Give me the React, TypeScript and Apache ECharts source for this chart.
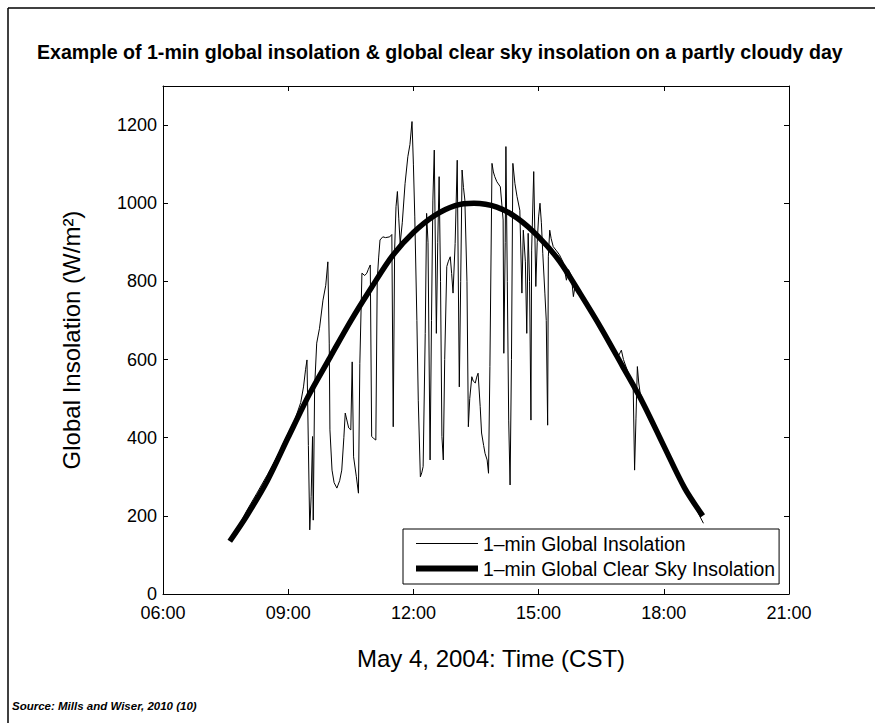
import React, { useEffect, useRef } from 'react';
import * as echarts from 'echarts';

const TITLE = 'Example of 1-min global insolation & global clear sky insolation on a partly cloudy day';
const X_NAME = 'May 4, 2004: Time (CST)';
const Y_NAME = 'Global Insolation (W/m²)';
const SOURCE = 'Source: Mills and Wiser, 2010 (10)';
const SERIES_NAMES = ['1–min Global Insolation', '1–min Global Clear Sky Insolation'];

// x axis: minutes after midnight
const X_MIN = 360;
const X_MAX = 1260;
const X_STEP = 180;
const xTickLabels = ['06:00', '09:00', '12:00', '15:00', '18:00', '21:00'];
const Y_MIN = 0;
const Y_MAX = 1300;
const Y_STEP = 200;

// 1-min global insolation (minutes, W/m2)
const globalMinutes = [
  456, 465, 480, 495, 510, 525, 540, 550, 558, 562, 565, 567, 569, 571, 573, 575, 576, 578, 581, 585,
  590, 594, 597, 599, 600, 603, 606, 610, 614, 617, 620, 622, 625, 627, 630, 632, 634, 638, 641, 643,
  646, 650, 653, 655, 658, 660, 663, 666, 668, 670, 672, 676, 680, 686, 689, 691, 693, 695, 697, 699,
  701, 704, 708, 712, 715, 718, 720, 722, 725, 727, 730, 732, 734, 737, 739, 741, 744, 746, 748, 750,
  753, 755, 757, 759, 761, 763, 765, 768, 770, 773, 775, 777, 780, 783, 786, 788, 790, 792, 794, 797,
  799, 801, 804, 806, 809, 811, 813, 816, 818, 821, 823, 826, 828, 830, 833, 835, 837, 840, 845, 849,
  850, 852, 853, 855, 857, 859, 861, 863, 866, 869, 873, 876, 878, 881, 883, 885, 887, 889, 890, 893,
  896, 898, 900, 902, 904, 906, 909, 911, 913, 914, 916, 918, 921, 925, 930, 935, 940, 943, 947, 950,
  953, 960, 970, 980, 990, 1000, 1010, 1015, 1019, 1022, 1028, 1033, 1036, 1038, 1040, 1042, 1044, 1046, 1050, 1060,
  1070, 1080, 1090, 1100, 1110, 1120, 1130, 1137,
];
const globalValues = [
  140, 160, 212, 258, 305, 355, 412, 448, 490, 530, 575, 599, 380, 164, 250, 403, 189, 530, 642, 680,
  752, 790, 850, 640, 420, 317, 285, 271, 290, 317, 400, 463, 440, 425, 420, 594, 351, 300, 258, 590,
  821, 815, 821, 830, 842, 403, 398, 394, 803, 860, 906, 914, 912, 914, 920, 428, 880, 991, 1030, 960,
  897, 950, 1050, 1119, 1150, 1209, 1100, 965, 700, 496, 300, 310, 326, 667, 974, 900, 343, 700, 1008, 1136,
  667, 900, 1068, 800, 403, 343, 600, 838, 850, 863, 820, 770, 897, 1110, 530, 800, 1085, 1040, 1008, 800,
  428, 500, 556, 545, 540, 555, 565, 480, 412, 380, 360, 343, 309, 582, 1102, 1080, 1068, 1055, 1042, 957,
  616, 900, 1145, 800, 445, 279, 600, 1102, 1050, 1017, 982, 770, 931, 850, 667, 923, 800, 445, 880, 1081,
  787, 900, 965, 1000, 950, 872, 770, 700, 432, 863, 931, 910, 889, 880, 868, 850, 803, 830, 815, 761,
  795, 770, 745, 715, 686, 655, 622, 610, 624, 600, 570, 545, 530, 317, 450, 582, 540, 514, 498, 460,
  420, 382, 348, 310, 275, 240, 205, 181,
];

// 1-min global clear sky insolation (minutes, W/m2)
const clearMinutes = [
  456, 480, 510, 540, 570, 600, 630, 660, 690, 720, 750, 780, 807, 840, 870, 900, 930, 960, 990, 1020,
  1050, 1080, 1110, 1136,
];
const clearValues = [
  135, 199, 290, 401, 510, 605, 699, 785, 866, 925, 968, 994, 1000, 990, 961, 914, 852, 768, 680, 585,
  489, 379, 271, 200,
];

const FONT = '"Liberation Sans", Arial, Helvetica, sans-serif';

export default function App() {
  const ref = useRef<HTMLDivElement>(null);

  useEffect(() => {
    if (!ref.current) return;
    const chart = echarts.init(ref.current, undefined, { renderer: 'svg' });

    const globalData = globalMinutes.map((m, i) => [m, globalValues[i]]);
    const clearData = clearMinutes.map((m, i) => [m, clearValues[i]]);

    const axisLine = { show: true, onZero: false, lineStyle: { color: '#000', width: 1 } };
    const axisTick = { show: true, inside: true, length: 5, lineStyle: { color: '#000', width: 1 } };

    const option: any = {
      animation: false,
      backgroundColor: '#fff',
      color: ['#000', '#000'],
      textStyle: { fontFamily: FONT, color: '#000' },
      title: {
        text: TITLE,
        left: 32,
        top: 37,
        textStyle: { fontFamily: FONT, fontSize: 19.6, fontWeight: 'bold', color: '#000' },
      },
      grid: { left: 163, top: 86, right: 86, bottom: 129, containLabel: false },
      legend: {
        left: 403,
        top: 529,
        orient: 'vertical',
        itemGap: 6,
        itemWidth: 62,
        itemHeight: 14,
        padding: [5, 4, 6, 10],
        borderColor: '#000',
        borderWidth: 1,
        backgroundColor: '#fff',
        selectedMode: false,
        textStyle: { fontFamily: FONT, fontSize: 19.4, color: '#000' },
        data: [
          {
            name: SERIES_NAMES[0],
            itemStyle: { opacity: 0 },
            lineStyle: { width: 1, color: '#000', opacity: 1 },
          },
          {
            name: SERIES_NAMES[1],
            itemStyle: { opacity: 0 },
            lineStyle: { width: 6, color: '#000', opacity: 1 },
          },
        ],
      },
      xAxis: [
        {
          type: 'value',
          position: 'bottom',
          min: X_MIN,
          max: X_MAX,
          interval: X_STEP,
          name: X_NAME,
          nameLocation: 'middle',
          nameGap: 52,
          nameTextStyle: { fontFamily: FONT, fontSize: 24, color: '#000', padding: [0, 0, 0, 30] },
          axisLine,
          axisTick,
          axisLabel: {
            fontFamily: FONT,
            fontSize: 18,
            color: '#000',
            margin: 10,
            formatter: (v: number) => xTickLabels[Math.round((v - X_MIN) / X_STEP)] ?? '',
          },
          splitLine: { show: false },
        },
        {
          type: 'value',
          position: 'top',
          min: X_MIN,
          max: X_MAX,
          interval: X_STEP,
          axisLine,
          axisTick,
          axisLabel: { show: false },
          splitLine: { show: false },
        },
      ],
      yAxis: [
        {
          type: 'value',
          position: 'left',
          min: Y_MIN,
          max: Y_MAX,
          interval: Y_STEP,
          name: Y_NAME,
          nameLocation: 'middle',
          nameGap: 80,
          nameTextStyle: { fontFamily: FONT, fontSize: 24, color: '#000' },
          axisLine,
          axisTick,
          axisLabel: {
            fontFamily: FONT,
            fontSize: 18,
            color: '#000',
            margin: 6,
            showMaxLabel: false,
            formatter: (v: number) => String(v),
          },
          splitLine: { show: false },
        },
        {
          type: 'value',
          position: 'right',
          min: Y_MIN,
          max: Y_MAX,
          interval: Y_STEP,
          axisLine,
          axisTick,
          axisLabel: { show: false },
          splitLine: { show: false },
        },
      ],
      series: [
        {
          name: SERIES_NAMES[0],
          type: 'line',
          xAxisIndex: 0,
          yAxisIndex: 0,
          data: globalData,
          symbol: 'none',
          showSymbol: false,
          itemStyle: { color: '#000' },
          lineStyle: { color: '#000', width: 1 },
          z: 2,
        },
        {
          name: SERIES_NAMES[1],
          type: 'line',
          xAxisIndex: 0,
          yAxisIndex: 0,
          data: clearData,
          symbol: 'none',
          showSymbol: false,
          smooth: 0.3,
          itemStyle: { color: '#000' },
          lineStyle: { color: '#000', width: 5.5 },
          z: 3,
        },
      ],
      graphic: [
        {
          type: 'line',
          silent: true,
          shape: { x1: 8, y1: 8, x2: 8, y2: 723 },
          style: { stroke: '#000', lineWidth: 1.5 },
        },
        {
          type: 'line',
          silent: true,
          shape: { x1: 8, y1: 8, x2: 875, y2: 8 },
          style: { stroke: '#000', lineWidth: 1.5 },
        },
        {
          type: 'text',
          left: 12,
          top: 700,
          style: {
            text: SOURCE,
            fontFamily: FONT,
            fontSize: 11.5,
            fontStyle: 'italic',
            fontWeight: 'bold',
            fill: '#000',
          },
        },
      ],
    };

    chart.setOption(option);
    return () => chart.dispose();
  }, []);

  return (
    <div
      ref={ref}
      style={{ position: 'fixed', left: 0, top: 0, width: 875, height: 723, background: '#fff' }}
    />
  );
}
